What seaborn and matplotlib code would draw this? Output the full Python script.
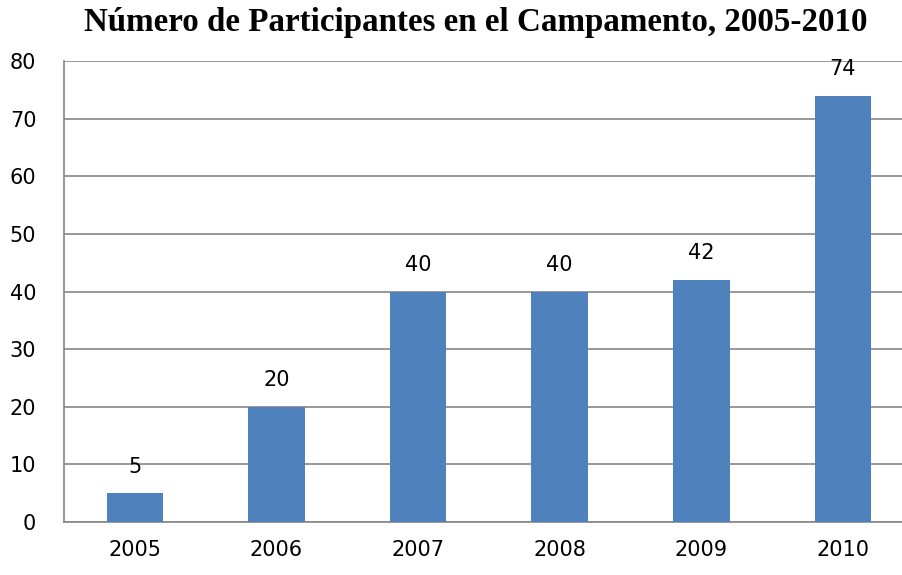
import matplotlib
matplotlib.use("Agg")
import matplotlib.pyplot as plt
import pandas as pd
import seaborn as sns

# Data
years = ["2005", "2006", "2007", "2008", "2009", "2010"]
participants = [5, 20, 40, 40, 42, 74]
y_ticks = [0, 10, 20, 30, 40, 50, 60, 70, 80]

df = pd.DataFrame({"year": years, "n": participants})

sns.set_style("white")
plt.rcParams["font.family"] = ["DejaVu Sans"]

grid_col = "#868686"
bar_col = "#4F81BD"

fig = plt.figure(figsize=(9.02, 5.75), dpi=100)
ax = fig.add_axes([0.071, 0.092, 0.942, 0.802])

sns.barplot(data=df, x="year", y="n", color=bar_col, width=0.4,
            saturation=1, linewidth=0, edgecolor="none", ax=ax, zorder=3)

ax.set_xlim(-0.5, len(years) - 0.5)
ax.set_ylim(0, 80)
ax.set_yticks(y_ticks)
ax.yaxis.grid(True, color=grid_col, lw=1.2, zorder=0)
ax.set_axisbelow(True)

for s in ["top", "right"]:
    ax.spines[s].set_visible(False)
for s in ["left", "bottom"]:
    ax.spines[s].set_color(grid_col)
    ax.spines[s].set_linewidth(1.2)

# x ticks at category boundaries, labels at centres
ax.set_xticks([i - 0.5 for i in range(len(years) + 1)], minor=True)
ax.tick_params(axis="x", which="minor", length=8, color=grid_col, width=1.2)
ax.tick_params(axis="x", which="major", length=0, pad=13, labelsize=15,
               labelcolor="black")
ax.tick_params(axis="y", length=9, color=grid_col, width=1.2, pad=11,
               labelsize=15, labelcolor="black")
ax.set_xlabel("")
ax.set_ylabel("")

# value labels
for i, v in enumerate(participants):
    ax.annotate(str(v), (i, v), xytext=(0, 12), textcoords="offset points",
                ha="center", va="bottom", fontsize=15, color="black")

fig.text(0.527, 0.960, "Número de Participantes en el Campamento, 2005-2010",
         ha="center", va="center", fontsize=23.8, fontweight="bold",
         color="black", family=["Liberation Serif", "DejaVu Serif"])

fig.savefig("out.png", dpi=100)
